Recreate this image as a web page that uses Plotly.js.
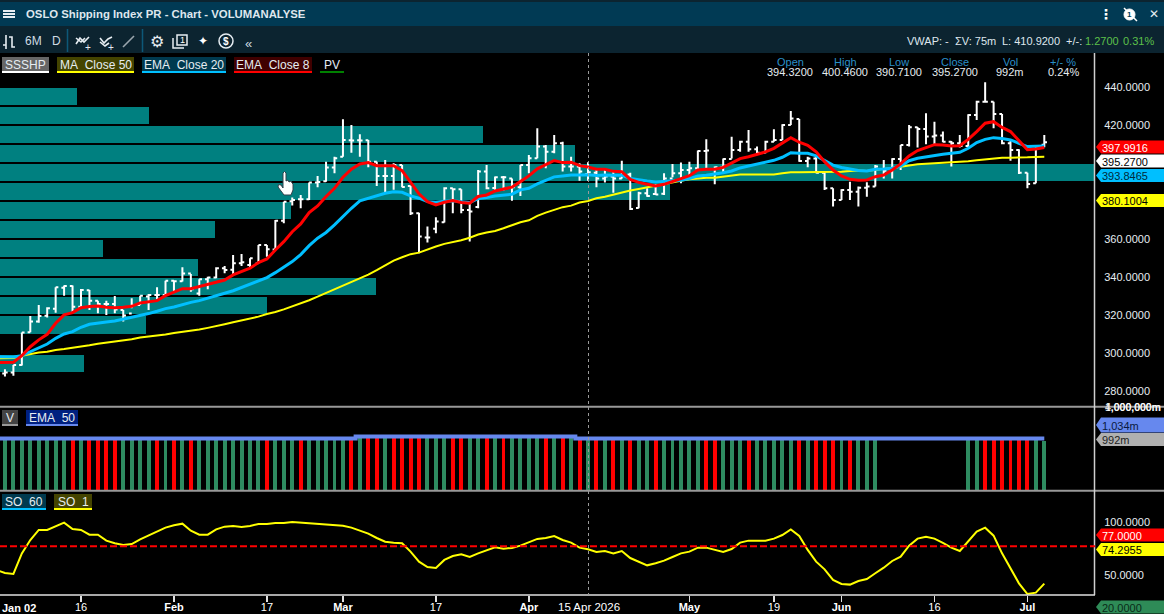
<!DOCTYPE html>
<html><head><meta charset="utf-8">
<script src="https://cdn.plot.ly/plotly-3.0.1.min.js"></script>
<style>html,body{margin:0;padding:0;background:#000;overflow:hidden}#c{width:1164px;height:614px}</style>
</head><body><div id="c"></div>
<script>
// ---------- data (bars are sessions 1..124; session 0 = Jan 02) ----------
const barOpen=[289.5,290,294,311.2,316.8,319.9,323.5,334.6,335.5,324.6,333.2,327.8,326,326,322.9,321,325.5,330,330.8,330.8,338.3,338,342,331.5,339,340,344.8,344,347.4,346.5,347.4,357,354.7,369.8,380,381,381,389.8,390.5,397.7,403.4,412,412,412,400.8,393.3,393.3,399,388,373.7,361,365.5,369,386.8,386.3,375.4,377,395.6,387,392.6,392,387.3,399,402.6,408.7,406,410.4,398.2,398.2,394.32,395,392,393,392,394,376.4,384.2,383.8,384,392,394.7,396.4,397.3,406.4,397,397.8,402.2,406.9,411.3,407.3,405.5,411.3,412.2,420,423.2,401.1,402.5,395,386.8,380.7,385.9,385,387.1,387.7,397,396,402.2,409.6,418.8,418,414,414.5,411.3,410.4,409,425.3,432.3,432.3,425.8,410.4,406.9,395,389.4,409.65];
const barHigh=[291.7,294,311,319.7,325.5,324.3,334.8,335.7,335.7,333.9,333.4,327.8,327.8,330.2,322.9,329,330.4,331.3,334.8,338.3,338.3,345.3,341.8,339,340.4,345.3,346,351.8,352.3,350,357,357,370.1,379.8,382,383.3,389.8,393.2,400.8,403.4,423,420,415.2,412.2,400.8,401.7,400,399,388,374,366.7,371.6,387.3,386.8,386.3,379.8,396.4,399,393,393.3,392,399,404.3,418.3,409.6,414.8,411.3,403.4,400,400.46,396.4,396.4,396.4,401.3,395,385,386.8,389,394.7,399.6,400.4,400.8,406.6,412.5,398.2,402.5,413.9,411.8,417.4,408.7,411.8,417.8,420.4,427.4,423.2,403.4,403.4,395.5,386.8,386.3,390.3,387.7,390,399,401.7,402.6,409.6,420,419,426.2,421.8,416.6,411.6,414.8,425.7,432.8,442.5,432.3,425.8,412.7,407.3,395,408.3,414.8];
const barLow=[287.9,288.4,293.7,311.2,316.2,318.9,321.5,330.4,322,323.8,322.9,321.2,320.3,321.2,316.8,323.8,325.5,322.9,328.5,330.8,332.5,337.8,332.5,330.4,333.8,339.5,342.2,341.3,346,344.8,347.4,350.9,354.7,368.4,377.7,376.3,380.7,387.3,390.3,394.7,403.4,405.5,403.4,397.9,388,384.2,386,387.3,372.8,352.7,358.3,363.2,368.8,373.7,373.7,358.8,376.3,386.3,385.6,385.6,380.3,382.8,394.7,402.6,397.3,405.2,395.6,395.6,390.8,390.71,387.3,389.8,384.5,392,375.4,376.3,382.4,383.3,383.3,392.6,389.4,392.9,396.4,396.4,388.9,395.5,402.5,406,406,405.2,405.2,411.3,412.2,420,400.8,397.8,394.7,385.9,377.2,380.7,380.7,377.2,382.4,387.7,392,392,396.4,408.7,408.2,410,409.6,411,398.2,408.2,408.3,422.7,432,418.3,410,401.3,394.3,386.8,389.4,408.3];
const barClose=[290,294,311,316.8,319.7,323.8,334.8,335.5,324.6,333.4,327.8,326,326,323.2,320,325.5,330.4,330.8,330.8,338.3,338,342.1,333.8,339,340,344.8,343.9,347.4,348,350,357,354.8,369.8,379.8,380.6,381,389.8,390.1,397.7,402.6,412.2,411.9,411.9,400.8,393.3,393.3,399,387.5,373.7,361.5,361,369.3,386.8,386.3,375.4,374.6,395.6,386.8,392.6,392.6,387.3,399,402.6,408.7,406,410.4,398.2,398.2,395.6,395.27,392,393,392,394,375.9,384.2,382.8,383.6,392,394.7,396.4,397.3,406.4,406.6,397.8,402.2,406.9,411.3,407.3,405.5,411.3,412.2,420,423.5,401.1,402.5,395,386.8,380.7,385.9,385,387.1,387.7,398.2,396,402.2,409.6,418.8,418,414,414.5,411.3,410.4,409,425.3,432.3,432.3,425.8,410.4,406.9,395,389,408.3,410.92];
const ema8=[295.2,295.2,295.4,298.9,303.6,307.2,310.1,315.9,320.3,321.5,324.1,324.7,325,324.3,324.1,324.3,324.8,326.6,327.3,327.8,330.4,332.2,334.1,334.1,335.2,336,337.4,338.6,341.3,343,344.8,347.8,349.7,354.4,358.8,364,368.1,374,377.5,382.5,386.8,392.6,396.8,399.6,400.3,398.7,398.7,398.7,396.1,390.3,383.9,379.8,378.1,379.5,380.4,379.3,379,382.5,383.3,385.4,386.3,387.4,390.3,393.3,397,399,401.4,400.3,400.5,398.7,397.99,396.8,396.8,395.7,395.5,391.5,389.9,388.9,388,388.9,390.6,391.9,393.4,396.4,396.8,396.8,397.8,399.9,402.4,403.4,404.8,405.9,407.8,410.8,413.4,411,409.4,406,400.8,396.4,393.3,391.5,391,391.2,392.9,393.8,396.4,399.6,403.8,406.6,408.2,409.7,409.6,409,409.2,412.5,416.6,421,421.8,418.8,416.6,411.8,407.1,407.4,408.2];
const ema20=[298.4,298.4,298.2,298.9,301,303.3,305,308,310.3,311.5,313.8,315.4,316.2,316.6,317.1,318,318.9,319.7,321,322.2,323.6,324.5,325.9,326.9,327.8,329,330.6,331.7,333,334.8,336.4,338.1,339.9,342.5,345.3,348.3,352,356.7,360.6,363.6,367.6,372,376.3,380.2,381.6,382.6,384.2,385,384.7,382.8,381.6,379.8,379.5,380,380.2,379.8,379.3,381.4,381.9,382.8,383.3,383.7,386,386.8,389.1,391,392.8,393.3,393.8,393.8,393.85,393.5,393.8,393.6,393.6,392,391.2,390.6,390.1,390.5,390.6,391,391.9,393.3,393.6,394.2,395,395.9,397.5,398.5,399.4,400.4,401.5,403.1,405.5,405.2,405.2,403.8,401.3,399,397.7,396.8,396.1,395.9,396.8,397,397.3,398.5,401.3,402.6,403.4,404.1,404.7,405.2,405.7,407.8,410.8,412.5,413.4,412.9,412.2,410.4,408.7,408.9,409];
const ma50=[297.5,297.5,297.7,298.8,299.8,300.5,300.9,301.9,302.4,303,303.8,304.4,305.2,305.8,306.3,306.8,307.5,308.4,308.9,309.4,310,310.8,311.3,311.9,312.6,313.5,314.3,315.4,316.4,317.3,318.2,319.4,320.8,321.8,323.2,324.8,326,328,329.9,331.8,333.7,335.6,337.4,339.4,341.5,343.8,346.2,348.8,350.6,352.2,353,354.8,356.2,357.6,358.5,359.5,360.8,362.5,363.6,364.4,365.8,367.6,369,370,372.3,374,375.4,376.9,377.7,379.3,380.1,381.6,382.4,383.5,384.5,385.6,386.4,387.3,388.5,389.4,390,390.8,391.5,392,392.4,392.4,392.9,393.3,394,394,394,394,394,394.7,395.2,395.2,395.2,395.2,395.2,395.2,395.5,395.9,396.1,395.9,396.6,397,397.5,398.2,399,399.4,399.7,399.9,400.1,400.3,400.6,401,401.5,402,402.6,402.9,402.9,402.9,403.1,403.3,403.4];
const volume=[1034,1034,1034,1034,1034,1034,1034,1034,1034,1034,1034,1034,1034,1034,1034,1034,1034,1034,1034,1034,1034,1034,1034,1034,1034,1034,1034,1034,1034,1034,1034,1034,1034,1034,1034,1034,1034,1034,1034,1034,1034,1034,1074,1074,1074,1074,1074,1074,1074,1074,1074,1074,1074,1074,1074,1074,1074,1074,1074,1074,1074,1074,1074,1074,1074,1074,1074,1074,1034,1034,1034,1034,1034,1034,1034,1034,1034,1034,1034,1034,1034,1034,1034,1034,1034,1034,1034,1034,1034,1034,1034,1034,1034,1034,1034,1034,1034,1034,1034,1034,1034,1034,1034,1034,null,null,null,null,null,null,null,null,null,null,1034,1034,1034,1034,1034,1034,1034,1034,1034,992];
const volumeDownSessions=[9,11,12,13,14,19,21,23,32,36,42,44,45,47,48,49,50,54,55,58,60,65,67,69,71,73,75,78,84,85,89,95,97,98,99,101,117,118,119,120,121,122];
const volumeEma50=[1034,1034,1034,1034,1034,1034,1034,1034,1034,1034,1034,1034,1034,1034,1034,1034,1034,1034,1034,1034,1034,1034,1034,1034,1034,1034,1034,1034,1034,1034,1034,1034,1034,1034,1034,1034,1034,1034,1034,1034,1034,1034,1034,1074,1074,1074,1074,1074,1074,1074,1074,1074,1074,1074,1074,1074,1074,1074,1074,1074,1074,1074,1074,1074,1074,1074,1074,1074,1074,1034,1034,1034,1034,1034,1034,1034,1034,1034,1034,1034,1034,1034,1034,1034,1034,1034,1034,1034,1034,1034,1034,1034,1034,1034,1034,1034,1034,1034,1034,1034,1034,1034,1034,1034,1034,1034,1034,1034,1034,1034,1034,1034,1034,1034,1034,1034,1034,1034,1034,1034,1034,1034,1034,1034,1034];
const so60=[54.7,51.9,51,70.4,83,92.5,92.5,95.6,99.4,93.4,92.5,88,88,82.4,79.9,78.3,79.2,83.6,87.4,90.6,94.7,96.9,98.4,91.8,88,88,93,95.6,96.2,95.3,96.2,98.1,98.1,99,99,100,99.4,99,98.4,98.1,97.5,96.5,94.7,92.1,89,84.9,81.4,80.5,79.9,72,62.6,57.5,56.6,64.2,67.9,69.5,67,70.4,73.6,76.1,74.8,75.5,77.7,80.5,84,84.9,86.8,83,80.5,75.8,74.3,71.7,72.6,70.4,72.6,66,62.6,59.1,61,63.5,67,70.4,72,75.8,75.8,73.6,71.7,74.5,80.5,82.4,82.4,82.4,84.3,87.7,93,86.8,73.6,62.6,55.3,45.3,41.5,40.9,44.3,46.2,51.6,56.9,63.2,67.3,77.7,84.3,86.1,84.3,80.2,75.8,72.6,81.4,90.9,94.6,87.1,70.4,56.3,42.1,32,33.3,41.8];
const soThreshold=77;
const profileBins=[435,425,415,405,395,385,375,365,355,345,335,325,315,295];
const profileVolume=[9.5,18,57.6,68.5,135,79.7,34.9,25.9,12.6,23.8,44.9,32,17.7,10.4];
const priceTicks=[280,300,320,340,360,420,440];
const soTicks=[50,100];
const dateTickSessions=[10,21,32,41,52,63,82,92,100,111,122];
const dateTickLabels=['16','<b>Feb</b>','17','<b>Mar</b>','17','<b>Apr</b>','<b>May</b>','19','<b>Jun</b>','16','<b>Jul</b>'];
const headerLabels=['Open','High','Low','Close','Vol','+/- %'];
const headerValues=['394.3200','400.4600','390.7100','395.2700','992m','0.24%'];

// ---------- layout helpers ----------
const W=1164,H=614,PX=1095;
const fx=x=>x/W, fy=y=>1-y/H;
const FONT='"Liberation Sans", Arial, sans-serif';
const shapes=[],annotations=[];
const rect=(x0,y0,x1,y1,color,layer)=>shapes.push({type:'rect',xref:'paper',yref:'paper',x0:fx(x0),x1:fx(x1),y0:fy(y0),y1:fy(y1),fillcolor:color,line:{width:0},layer:layer||'above'});
const seg=(x0,y0,x1,y1,color,w,dash)=>shapes.push({type:'line',xref:'paper',yref:'paper',x0:fx(x0),x1:fx(x1),y0:fy(y0),y1:fy(y1),line:{color:color,width:w||1,dash:dash||'solid'},layer:'above'});
const poly=(pts,fill,lineColor,w,closed)=>shapes.push({type:'path',xref:'paper',yref:'paper',path:pts.map((p,i)=>(i?'L':'M')+fx(p[0])+','+fy(p[1])).join(' ')+(closed===false?'':' Z'),fillcolor:fill||'rgba(0,0,0,0)',line:{color:lineColor||'rgba(0,0,0,0)',width:w||0},layer:'above'});
const txt=(x,y,t,o)=>{o=o||{};annotations.push({xref:'paper',yref:'paper',x:fx(x),y:fy(y),text:t,showarrow:false,xanchor:o.a||'left',yanchor:'middle',font:{family:o.f||FONT,size:o.s||11,color:o.c||'#e6edf2'},borderpad:0,borderwidth:0,bgcolor:o.bg||'rgba(0,0,0,0)',align:'left'})};

// window chrome
rect(0,0,W,2,'#0c2430');
rect(0,2,W,26,'#013a54');
rect(0,26,W,53,'#0c2430');
[11,14,17].forEach(y=>seg(3,y,15,y,'#e6edf2',2));
txt(26,14,'<b>OSLO Shipping Index PR - Chart - VOLUMANALYSE</b>',{s:11.35,c:'#dfe7ee'});
// toolbar icons
poly([[3,45],[6,45],[6,35],[6,49]],null,'#e6edf2',1.6,false);
poly([[9,37],[12,37],[12,47],[15,47]],null,'#e6edf2',1.6,false);
txt(25,41,'6M',{s:12,c:'#cfdbe3'});
txt(52,41,'D',{s:12,c:'#cfdbe3'});
seg(67.5,29,67.5,52,'#0d5878',1.5);
seg(142.5,29,142.5,52,'#0d5878',1.5);
poly([[76,44],[80,38],[84,42],[89,37]],null,'#e6edf2',1.6,false);
poly([[76,38],[81,42],[85,38]],null,'#e6edf2',1.6,false);
txt(84.5,47,'+',{s:10,a:'left'});
poly([[100,38],[104,43],[108,39],[112,37]],null,'#e6edf2',1.6,false);
poly([[100,42],[105,46],[109,43]],null,'#e6edf2',1.6,false);
txt(108,47,'+',{s:10});
seg(123,47,134,36,'#9aa6ad',1.6);
txt(157,41,'⚙',{s:16,a:'center',f:'"DejaVu Sans"'});
poly([[177,35],[187,35],[187,45],[177,45]],null,'#e6edf2',1.5);
poly([[173,38],[173,48],[184,48]],null,'#e6edf2',1.5,false);
txt(182,40,'1',{s:9,a:'center',c:'#ffffff'});
txt(203,41,'✦',{s:12,a:'center',f:'"DejaVu Sans"',c:'#ffffff'});
shapes.push({type:'circle',xref:'paper',yref:'paper',x0:fx(219),x1:fx(233),y0:fy(48),y1:fy(34),line:{color:'#e6edf2',width:1.5},layer:'above'});
txt(226,41,'<b>$</b>',{s:10,a:'center',c:'#ffffff'});
txt(248,43,'«',{s:13,a:'center',c:'#cfdbe3'});
// title-bar icons on the right
txt(1106,14,'<b>⋮</b>',{s:14,a:'center',f:'"DejaVu Sans"',c:'#ffffff'});
shapes.push({type:'circle',xref:'paper',yref:'paper',x0:fx(1124),x1:fx(1135),y0:fy(20),y1:fy(9),fillcolor:'#ffffff',line:{color:'#ffffff',width:1},layer:'above'});
seg(1124,8,1137,21,'#ffffff',1.5);
txt(1129.5,14.5,'<b>1</b>',{s:8,a:'center',c:'#013a54'});
txt(1154,14,'✕',{s:12,a:'center',f:'"DejaVu Sans"',c:'#e6edf2'});
// top-right readout
txt(907,41,'VWAP: -',{c:'#dfe7ee'});
txt(955,41,'ΣV: 75m',{c:'#dfe7ee'});
txt(1002,41,'L: 410.9200',{c:'#dfe7ee'});
txt(1066,41,'+/-:',{c:'#dfe7ee'});
txt(1085,41,'1.2700',{c:'#5cc04a'});
txt(1123,41,'0.31%',{c:'#5cc04a'});

// legend chips
const chip=(x0,x1,y0,label,bg,under)=>{ if(bg) rect(x0,y0,x1,y0+14,bg); rect(x0,y0+14,x1,y0+16,under); txt((x0+x1)/2,y0+7.5,label,{a:'center',s:12,c:'#e6edf2'}); };
chip(2,49,57,'SSSHP','#666666','#ffffff');
chip(57,134,57,'MA&nbsp;&nbsp;Close 50','#444400','#ffff00');
chip(142,226,57,'EMA&nbsp;&nbsp;Close 20','#003a4f','#00bfff');
chip(234,312,57,'EMA&nbsp;&nbsp;Close 8','#400000','#ff0000');
chip(320,344,57,'PV',null,'#008000');
chip(2,18,410,'V','#444444','#999999');
chip(26,78,410,'EMA&nbsp;&nbsp;50','#002080','#6688ee');
chip(2,46,494,'SO&nbsp;&nbsp;60','#003a4f','#00bfff');
chip(54,92,494,'SO&nbsp;&nbsp;1','#444400','#ffff00');

// OHLC read-out over the chart
const headerX=[790,845,899,955,1010,1063];
headerLabels.forEach((t,k)=>{txt(headerX[k],62,t,{a:'center',c:'#2a8fc8',s:11});txt(headerX[k],72,headerValues[k],{a:'center',c:'#e6edf2',s:11});});

// panel rules
seg(0,406.7,W,406.7,'#999999',2);
seg(0,490.7,W,490.7,'#999999',2);
seg(1094.5,53,1094.5,595,'#cfcfcf',1.5);
seg(0,595,1095,595,'#e0e0e0',1.5);
seg(588.5,53,588.5,595,'#9a9a9a',1,'dot');

// right-hand value flags
const flag=(y,t,bg,fg,h)=>{const r=(h||13)/2;poly([[1096,y],[1101,y-r],[W,y-r],[W,y+r],[1101,y+r]],bg);txt(1102,y+0.5,t,{c:fg,s:11});};
flag(147,'397.9916','#ff0000','#ffffff');
flag(161,'395.2700','#ffffff','#000000');
flag(175.5,'393.8465','#00bfff','#002a3a');
flag(200.5,'380.1004','#ffff00','#000000');
flag(425,'1,034m','#6688ee','#0a1a40',15);
flag(439.5,'992m','#b0b0b0','#222222');
flag(535,'77.0000','#ff0000','#ffffff');
flag(549.5,'74.2955','#ffff00','#000000');
flag(607,'20.0000','#2e8b57','#0a2a18');
txt(1105,407,'<b>4,000,000m</b>',{s:10.5,c:'#cfcfcf'});
txt(1105,407,'1,000,000m',{s:10.5,c:'#ffffff'});
// date labels outside the tick system
txt(2,608,'<b>Jan 02</b>',{s:11,c:'#ffffff'});
txt(588.5,607,'15 Apr 2026',{s:11.5,a:'center',c:'#ffffff',bg:'#000000'});
// mouse pointer
poly([[283,173],[284.5,171.5],[286,173],[286,181],[288,180],[289,182],[291,181],[292,183],[293,184],[293,190],[291,195],[284,195],[278,187],[278.5,184.5],[281,185],[283,188]],'#ffffff','#30404a',1);

// threshold in the stochastic panel, placed through the axis
shapes.push({type:'line',xref:'paper',x0:0,x1:fx(PX),yref:'y3',y0:soThreshold,y1:soThreshold,line:{color:'#ff0000',width:2,dash:'7px,3px'},layer:'above'});

// ---------- traces ----------
const lineSessions=ema8.map((_,i)=>i);
const barSessions=barOpen.map((_,i)=>i+1);
const volColors=volume.map((_,i)=>volumeDownSessions.includes(i+1)?'#ff0000':'#2e8b60');
const data=[
 {type:'bar',orientation:'h',x:profileVolume,y:profileBins,width:8.95,marker:{color:'#008080',line:{width:0}},xaxis:'x',yaxis:'y',hoverinfo:'skip',name:'PV'},
 {type:'ohlc',x:barSessions,open:barOpen,high:barHigh,low:barLow,close:barClose,tickwidth:0.32,
  increasing:{line:{color:'#ffffff',width:2}},decreasing:{line:{color:'#ffffff',width:2}},xaxis:'x',yaxis:'y',name:'SSSHP',hoverinfo:'skip'},
 {type:'scatter',mode:'lines',x:lineSessions,y:ma50,line:{color:'#ffff00',width:2},xaxis:'x',yaxis:'y',name:'MA Close 50',hoverinfo:'skip'},
 {type:'scatter',mode:'lines',x:lineSessions,y:ema20,line:{color:'#00bfff',width:3},xaxis:'x',yaxis:'y',name:'EMA Close 20',hoverinfo:'skip'},
 {type:'scatter',mode:'lines',x:lineSessions,y:ema8,line:{color:'#ff0000',width:3},xaxis:'x',yaxis:'y',name:'EMA Close 8',hoverinfo:'skip'},
 {type:'bar',x:barSessions,y:volume,width:0.47,marker:{color:volColors,line:{width:0}},xaxis:'x',yaxis:'y2',name:'V',hoverinfo:'skip'},
 {type:'scatter',mode:'lines',x:lineSessions,y:volumeEma50,line:{color:'#6688ee',width:4,shape:'hvh'},xaxis:'x',yaxis:'y2',name:'EMA 50',hoverinfo:'skip'},
 {type:'scatter',mode:'lines',x:lineSessions,y:so60,line:{color:'#ffff00',width:2},xaxis:'x',yaxis:'y3',name:'SO 60',hoverinfo:'skip'}
];
const dom=(top,bottom)=>[1-bottom/H,1-top/H];
const rightAxis=(top,bottom,range,ticks)=>({domain:dom(top,bottom),range:range,anchor:'x',side:'right',showgrid:false,zeroline:false,showline:false,
  tickmode:'array',tickvals:ticks,tickformat:'.4f',ticks:ticks.length?'outside':'',ticklen:6,tickcolor:'rgba(0,0,0,0)',
  tickfont:{family:FONT,size:11,color:'#e6edf2'},fixedrange:true});
const layout={width:W,height:H,margin:{l:0,r:0,t:0,b:0},paper_bgcolor:'#000',plot_bgcolor:'#000',showlegend:false,bargap:0,dragmode:false,hovermode:false,
 xaxis:{domain:[0,PX/W],range:[0.414,130.0],anchor:'y3',showgrid:false,zeroline:false,showline:false,rangeslider:{visible:false},
  tickmode:'array',tickvals:dateTickSessions,ticktext:dateTickLabels,ticks:'outside',ticklen:6,tickwidth:1.5,tickcolor:'#e0e0e0',
  ticklabelstandoff:-4,tickfont:{family:FONT,size:11,color:'#ffffff'},fixedrange:true},
 yaxis:rightAxis(53,406,[272.46,457.86],priceTicks),
 yaxis2:Object.assign(rightAxis(408,491,[0,1635],[]),{showticklabels:false}),
 yaxis3:rightAxis(492,595,[31.1,128.3],soTicks),
 shapes:shapes,annotations:annotations};
Plotly.newPlot('c',data,layout,{staticPlot:true,displayModeBar:false});
</script></body></html>
